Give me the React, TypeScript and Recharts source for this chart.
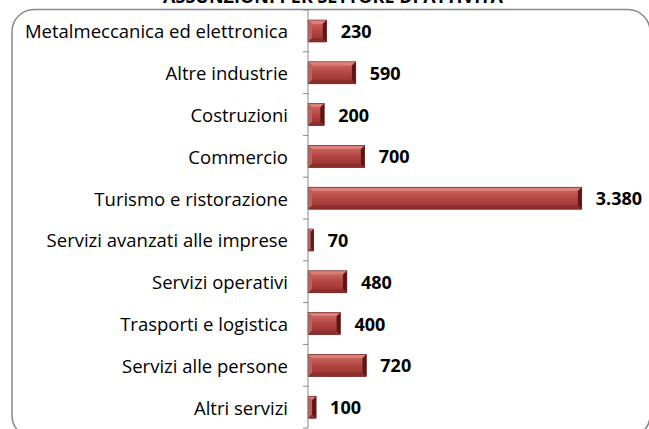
import React from "react";
import { BarChart, Bar, XAxis, YAxis, LabelList } from "recharts";

const categories = [
  "Metalmeccanica ed elettronica",
  "Altre industrie",
  "Costruzioni",
  "Commercio",
  "Turismo e ristorazione",
  "Servizi avanzati alle imprese",
  "Servizi operativi",
  "Trasporti e logistica",
  "Servizi alle persone",
  "Altri servizi",
];
const values = [230, 590, 200, 700, 3380, 70, 480, 400, 720, 100];
const title = "ASSUNZIONI PER SETTORE DI ATTIVITÀ";

const data = categories.map((c, i) => ({ name: c, value: values[i] }));

const W = 649;
const H = 429;
const MARGIN = { top: 10, right: 17, bottom: 1, left: 0 };
const YW = 308;
const FONT = "'Open Sans', Lato, sans-serif";

const fmtIt = (v: number) => String(v).replace(/\B(?=(\d{3})+(?!\d))/g, ".");

const band = (H - MARGIN.top - MARGIN.bottom) / categories.length;

const Tick = (props: any) => {
  const { y, payload, index } = props;
  const axisX = MARGIN.left + YW;
  return (
    <g>
      <text
        x={axisX - 20}
        y={y}
        textAnchor="end"
        dominantBaseline="central"
        fontFamily={FONT}
        fontSize={18.5}
        fill="#000"
      >
        {payload.value}
      </text>
      <line x1={axisX - 5} x2={axisX} y1={y - band / 2} y2={y - band / 2} stroke="#888" strokeWidth={1} />
      {index === categories.length - 1 ? (
        <line x1={axisX - 5} x2={axisX} y1={y + band / 2} y2={y + band / 2} stroke="#888" strokeWidth={1} />
      ) : null}
    </g>
  );
};

const BevelBar = (props: any) => {
  const { x, y, width, height } = props;
  if (!width || width <= 0) return null;
  const b = Math.min(4, width / 2, height / 2);
  const x2 = x + width;
  const y2 = y + height;
  return (
    <g>
      <rect x={x} y={y} width={width} height={height} fill="#a63c3a" />
      <polygon points={`${x},${y} ${x2},${y} ${x2 - b},${y + b} ${x + b},${y + b}`} fill="#dc807b" />
      <polygon points={`${x + b},${y2 - b} ${x2 - b},${y2 - b} ${x2},${y2} ${x},${y2}`} fill="#8a2e2c" />
      <polygon points={`${x},${y} ${x + b},${y + b} ${x + b},${y2 - b} ${x},${y2}`} fill="#c2605c" />
      <polygon points={`${x2},${y} ${x2 - b},${y + b} ${x2 - b},${y2 - b} ${x2},${y2}`} fill="#5e1614" />
      <rect x={x + b} y={y + b} width={Math.max(0, width - 2 * b)} height={height - 2 * b} fill="url(#barFace)" />
      <rect x={x} y={y} width={width} height={height} fill="none" stroke="#6a1e1c" strokeWidth={0.6} />
    </g>
  );
};

const ValueLabel = (props: any) => {
  const { x, y, width, height, value } = props;
  return (
    <text
      x={x + width + 14}
      y={y + height / 2}
      dominantBaseline="central"
      fontFamily={FONT}
      fontSize={18}
      fontWeight="bold"
      fill="#000"
    >
      {fmtIt(value)}
    </text>
  );
};

export default function App() {
  return (
    <div style={{ position: "absolute", left: 0, top: 0, width: W, height: H, background: "#fff", overflow: "hidden" }}>
      <svg style={{ position: "absolute", left: 0, top: 0 }} width={W} height={H}>
        <rect x={12} y={9.5} width={638} height={428} rx={22} ry={22} fill="none" stroke="#888" strokeWidth={1.5} />
        <text x={333} y={3} textAnchor="middle" fontFamily={FONT} fontSize={18} fontWeight="bold" fill="#000">
          {title}
        </text>
      </svg>
      <div style={{ position: "absolute", left: 0, top: 0 }}>
        <BarChart width={W} height={H} data={data} layout="vertical" margin={MARGIN} barSize={22}>
          <defs>
            <linearGradient id="barFace" x1="0" y1="0" x2="0" y2="1">
              <stop offset="0%" stopColor="#c9605c" />
              <stop offset="50%" stopColor="#b24642" />
              <stop offset="100%" stopColor="#a03836" />
            </linearGradient>
          </defs>
          <XAxis type="number" domain={[0, 4000]} hide />
          <YAxis
            type="category"
            dataKey="name"
            width={YW}
            axisLine={{ stroke: "#888", strokeWidth: 1 }}
            tickLine={false}
            tick={<Tick />}
            interval={0}
          />
          <Bar dataKey="value" shape={<BevelBar />} isAnimationActive={false}>
            <LabelList dataKey="value" content={<ValueLabel />} />
          </Bar>
        </BarChart>
      </div>
    </div>
  );
}
